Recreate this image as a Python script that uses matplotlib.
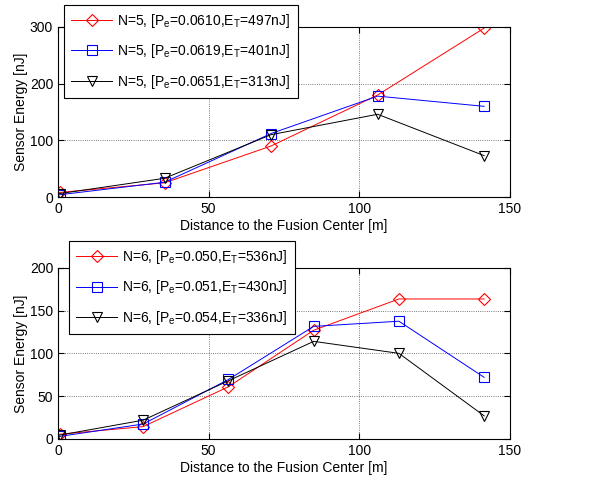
import numpy as np
import matplotlib
matplotlib.use('Agg')
import matplotlib.pyplot as plt

plt.rcParams['font.family'] = ['Liberation Sans', 'DejaVu Sans']
plt.rcParams['mathtext.fontset'] = 'custom'
plt.rcParams['mathtext.rm'] = 'Liberation Sans'

# Top panel: N=5
dist5 = [0.5, 35.36, 70.71, 106.07, 141.42]
e5_red = [8, 25, 90, 180, 298]
e5_blue = [4, 26, 112, 178, 160]
e5_black = [6, 33, 110, 146, 73]
labels5 = [r'N=5, [P$_\mathregular{e}$=0.0610,E$_\mathregular{T}$=497nJ]',
           r'N=5, [P$_\mathregular{e}$=0.0619,E$_\mathregular{T}$=401nJ]',
           r'N=5, [P$_\mathregular{e}$=0.0651,E$_\mathregular{T}$=313nJ]']

# Bottom panel: N=6
dist6 = [0.5, 28.28, 56.57, 84.85, 113.14, 141.42]
e6_red = [5.5, 14.5, 61, 127, 163.5, 163.5]
e6_blue = [3, 17.5, 69.5, 131.5, 137.5, 72]
e6_black = [4.5, 22, 68, 114, 100, 27]
labels6 = [r'N=6, [P$_\mathregular{e}$=0.050,E$_\mathregular{T}$=536nJ]',
           r'N=6, [P$_\mathregular{e}$=0.051,E$_\mathregular{T}$=430nJ]',
           r'N=6, [P$_\mathregular{e}$=0.054,E$_\mathregular{T}$=336nJ]']

W, H = 611, 483
fig = plt.figure(figsize=(W / 100, H / 100), dpi=100)
ax1 = fig.add_axes([58 / W, 1 - 197 / H, 452 / W, 170 / H])
ax2 = fig.add_axes([58 / W, 1 - 439 / H, 452 / W, 171.3 / H])

styles = [('r', 'D'), ('b', 's'), ('k', 'v')]
msizes = [6.2, 6.5, 7]


def draw(ax, x, series, labels, ymax, yticks, anchor):
    for (c, m), ms, y, lab in zip(styles, msizes, series, labels):
        ax.plot(x, y, color=c, marker=m, ms=ms, mfc='none', mec=c,
                lw=0.7, mew=0.8, label=lab)
    ax.set_xlim(0, 150)
    ax.set_ylim(0, ymax)
    ax.set_xticks([0, 50, 100, 150])
    ax.set_yticks(yticks)
    ax.grid(True, linestyle=':', color='k', lw=0.6, alpha=0.7)
    ax.tick_params(direction='in', labelsize=10, length=4, top=True, right=True)
    ax.set_xlabel('Distance to the Fusion Center [m]', fontsize=10, labelpad=2)
    ax.set_ylabel('Sensor Energy [nJ]', fontsize=10, labelpad=1)
    leg = ax.legend(loc='upper left', bbox_to_anchor=anchor, borderaxespad=0,
                    fontsize=10, handlelength=3.0, handletextpad=0.35,
                    labelspacing=0.9, borderpad=0.5,
                    fancybox=False, edgecolor='k', framealpha=1)
    leg.get_frame().set_linewidth(0.8)


draw(ax1, dist5, [e5_red, e5_blue, e5_black], labels5, 300, [0, 100, 200, 300],
     (0.013, 1.13))
draw(ax2, dist6, [e6_red, e6_blue, e6_black], labels6, 200, [0, 50, 100, 150, 200],
     (0.024, 1.156))

fig.savefig('out.png', dpi=100)
